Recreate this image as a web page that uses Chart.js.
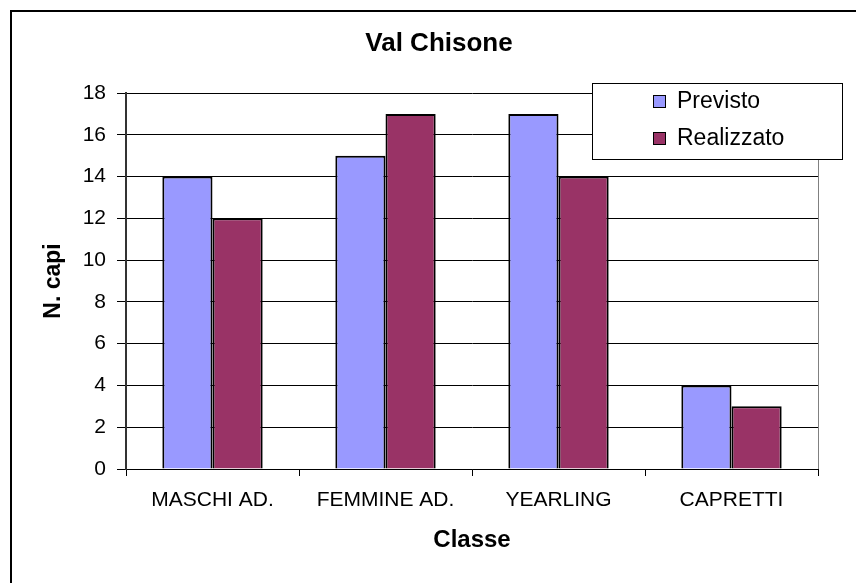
<!DOCTYPE html>
<html>
<head>
<meta charset="utf-8">
<script src="https://cdn.jsdelivr.net/npm/chart.js@4.4.1/dist/chart.umd.min.js"></script>
<style>
  html, body { margin: 0; padding: 0; background: #fff; }
  canvas { display: block; }
</style>
</head>
<body>
<canvas id="valChisone" width="856" height="583"></canvas>
<script>
const classi = ['MASCHI AD.', 'FEMMINE AD.', 'YEARLING', 'CAPRETTI'];
const previsto = [14, 15, 17, 4];
const realizzato = [12, 17, 14, 3];
const yTicks = [0, 2, 4, 6, 8, 10, 12, 14, 16, 18];
const titolo = 'Val Chisone';

const FONT = "'Liberation Sans', Arial, sans-serif";

// title, outer frame, grey right edge of plot area, legend box
const excelBits = {
    id: 'excelBits',
    afterDraw(chart) {
        const ctx = chart.ctx;
        const area = chart.chartArea;
        ctx.save();
        // title (Excel centres it a bit right of the plot)
        ctx.fillStyle = '#000';
        ctx.font = 'bold 26px ' + FONT;
        ctx.textAlign = 'center';
        ctx.textBaseline = 'middle';
        ctx.fillText(titolo, 439, 44);

        // right border of plot area
        ctx.strokeStyle = '#808080';
        ctx.lineWidth = 1;
        ctx.beginPath();
        ctx.moveTo(Math.round(area.right) + 0.5, area.top);
        ctx.lineTo(Math.round(area.right) + 0.5, area.bottom);
        ctx.stroke();

        // outer chart border (cut off right/bottom)
        ctx.strokeStyle = '#000';
        ctx.lineWidth = 2;
        ctx.strokeRect(11, 11, 900, 900);

        // legend
        const lx = 592.5, ly = 83.5, lw = 250, lh = 76;
        ctx.fillStyle = '#fff';
        ctx.fillRect(lx, ly, lw, lh);
        ctx.strokeStyle = '#000';
        ctx.lineWidth = 1;
        ctx.strokeRect(lx, ly, lw, lh);
        ctx.font = '23px ' + FONT;
        ctx.textBaseline = 'middle';
        ctx.textAlign = 'left';
        chart.data.datasets.forEach((ds, i) => {
            const cy = 102 + i * 37;
            ctx.fillStyle = ds.backgroundColor;
            ctx.fillRect(653.5, cy - 6.5, 12, 12);
            ctx.strokeStyle = '#000';
            ctx.strokeRect(653.5, cy - 6.5, 12, 12);
            ctx.fillStyle = '#000';
            ctx.fillText(ds.label, 677, cy);
        });
        ctx.restore();
    }
};

new Chart(document.getElementById('valChisone'), {
    type: 'bar',
    data: {
        labels: classi,
        datasets: [{
            label: 'Previsto',
            data: previsto,
            backgroundColor: '#9999FF',
            borderColor: '#000',
            borderWidth: 2
        }, {
            label: 'Realizzato',
            data: realizzato,
            backgroundColor: '#993366',
            borderColor: '#000',
            borderWidth: 2
        }]
    },
    options: {
        responsive: false,
        animation: false,
        devicePixelRatio: 1,
        layout: {
            padding: { left: 0, right: 38, top: 93, bottom: 0 }
        },
        categoryPercentage: 0.58,
        barPercentage: 1.0,
        plugins: {
            legend: { display: false },
            tooltip: { enabled: false },
            title: { display: false }
        },
        scales: {
            x: {
                offset: true,
                grid: {
                    offset: true,
                    drawOnChartArea: false,
                    drawTicks: true,
                    tickLength: 7,
                    color: '#000'
                },
                border: { color: '#000', width: 1 },
                ticks: {
                    color: '#000',
                    padding: 12,
                    font: { family: FONT, size: 21 }
                },
                title: {
                    display: true,
                    text: 'Classe',
                    color: '#000',
                    font: { family: FONT, size: 24, weight: 'bold' },
                    padding: { top: 0, bottom: 28 }
                },
                afterFit(scale) { scale.height = 114; }
            },
            y: {
                min: 0,
                max: 18,
                afterBuildTicks(scale) {
                    scale.ticks = yTicks.map(v => ({ value: v }));
                },
                grid: {
                    color: '#000',
                    lineWidth: 1,
                    drawTicks: true,
                    tickLength: 9
                },
                border: { color: '#333', width: 2 },
                ticks: {
                    color: '#000',
                    padding: 11,
                    font: { family: FONT, size: 21 }
                },
                title: {
                    display: true,
                    text: 'N. capi',
                    color: '#000',
                    font: { family: FONT, size: 23, weight: 'bold' },
                    padding: { top: 40, bottom: 0 }
                },
                afterFit(scale) { scale.width = 126; }
            }
        }
    },
    plugins: [excelBits]
});
</script>
</body>
</html>
